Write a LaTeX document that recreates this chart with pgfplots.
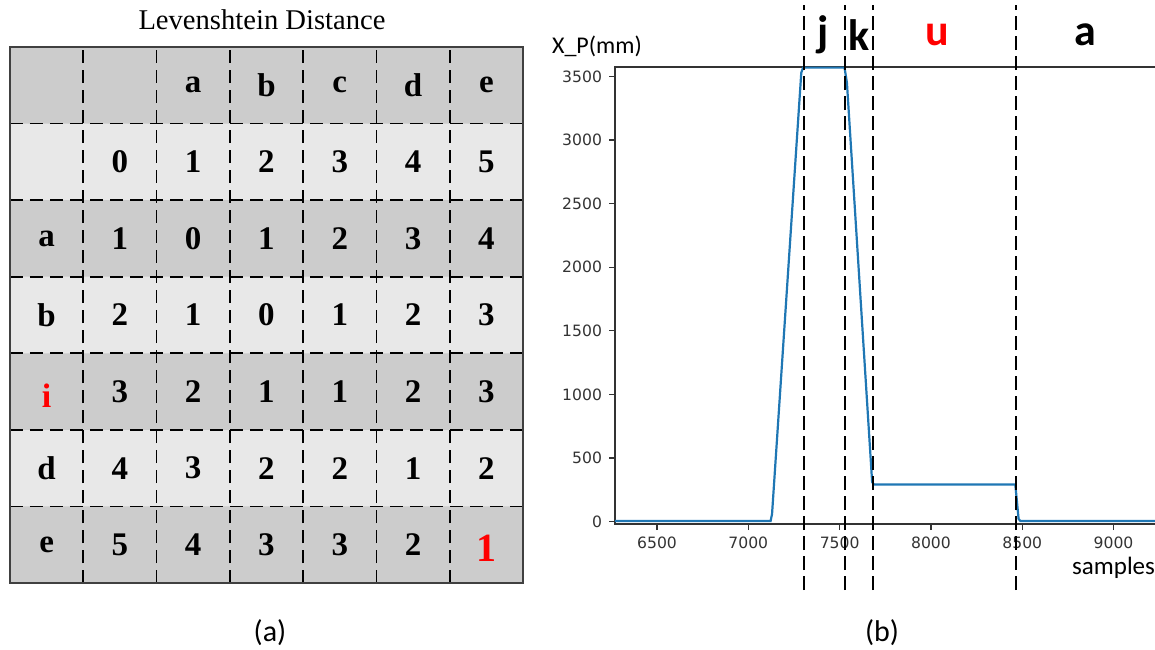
\documentclass[border=0pt]{standalone}
\usepackage{pgfplots}
\pgfplotsset{compat=1.18}
\usepackage{fontspec}
\setmainfont{Liberation Serif}
\newfontfamily\carlito{Carlito}
\newfontfamily\dejavu{DejaVu Sans}
\definecolor{cdark}{RGB}{204,204,204}
\definecolor{clight}{RGB}{232,232,232}
\definecolor{mplblue}{RGB}{31,119,180}
\begin{document}
\begin{tikzpicture}[x=1pt,y=1pt]
\path[use as bounding box] (0,0) rectangle (577.5,324.5);
\clip (0,0) rectangle (577.5,324.5);
% ---------- (a) table ----------
\begin{axis}[name=tab, at={(5pt,33pt)}, anchor=south west, scale only axis,
  width=256.5pt, height=268pt, xmin=0, xmax=7, ymin=0, ymax=7,
  xtick={1,...,6}, ytick={1,...,6}, xticklabels={,,,,,}, yticklabels={,,,,,},
  major tick length=0pt, grid=major,
  major grid style={black, line width=0.9pt, dash pattern=on 6.5pt off 3.5pt},
  axis on top, axis line style={black!75, line width=1.3pt}, clip=false]
\addplot[fill=clight, draw=none] coordinates {(0,0)(7,0)(7,7)(0,7)(0,0)};
\addplot[fill=cdark, draw=none] coordinates {(0,6)(7,6)(7,7)(0,7)(0,6)};
\addplot[fill=cdark, draw=none] coordinates {(0,4)(7,4)(7,5)(0,5)(0,4)};
\addplot[fill=cdark, draw=none] coordinates {(0,2)(7,2)(7,3)(0,3)(0,2)};
\addplot[fill=cdark, draw=none] coordinates {(0,0)(7,0)(7,1)(0,1)(0,0)};
\addplot[draw=none, mark=none, nodes near coords, point meta=explicit symbolic,
  nodes near coords align={anchor=center},
  every node near coord/.append style={font=\bfseries\fontsize{16.5}{16}\selectfont, text=black}]
  table[meta=lab] {
x y lab
2.5 6.5 a
3.5 6.5 b
4.5 6.5 c
5.5 6.5 d
6.5 6.5 e
1.5 5.5 0
2.5 5.5 1
3.5 5.5 2
4.5 5.5 3
5.5 5.5 4
6.5 5.5 5
0.5 4.5 a
1.5 4.5 1
2.5 4.5 0
3.5 4.5 1
4.5 4.5 2
5.5 4.5 3
6.5 4.5 4
0.5 3.5 b
1.5 3.5 2
2.5 3.5 1
3.5 3.5 0
4.5 3.5 1
5.5 3.5 2
6.5 3.5 3
1.5 2.5 3
2.5 2.5 2
3.5 2.5 1
4.5 2.5 1
5.5 2.5 2
6.5 2.5 3
0.5 1.5 d
1.5 1.5 4
2.5 1.5 3
3.5 1.5 2
4.5 1.5 2
5.5 1.5 1
6.5 1.5 2
0.5 0.5 e
1.5 0.5 5
2.5 0.5 4
3.5 0.5 3
4.5 0.5 3
5.5 0.5 2
};
\addplot[draw=none, mark=none, nodes near coords, point meta=explicit symbolic,
  nodes near coords align={anchor=center},
  every node near coord/.append style={font=\bfseries\fontsize{17}{16}\selectfont, text=red}]
  table[meta=lab] {
x y lab
0.5 2.45 i
};
\addplot[draw=none, mark=none, nodes near coords, point meta=explicit symbolic,
  nodes near coords align={anchor=center},
  every node near coord/.append style={font=\bfseries\fontsize{20}{20}\selectfont, text=red}]
  table[meta=lab] {
x y lab
6.5 0.45 1
};
\end{axis}
\node[font=\fontsize{14.3}{17}\selectfont] at (131,314.5) {Levenshtein Distance};
\node[font=\carlito\fontsize{15}{18}\selectfont] at (135,8) {(a)};
% ---------- (b) plot ----------
\begin{axis}[at={(307.5pt,62.5pt)}, anchor=south west, scale only axis,
  width=285.8pt, height=228.5pt, xmin=6270, xmax=9400, ymin=-20, ymax=3575,
  xtick={6500,7000,...,9000}, ytick={0,500,...,3500},
  tick align=outside, tick pos=left, major tick length=3pt,
  /pgf/number format/1000 sep={}, /pgf/number format/assume math mode=true,
  ticklabel style={font=\dejavu\fontsize{7.8}{9}\selectfont, text=black!80},
  tick style={black!80, line width=0.6pt},
  axis line style={black!80, line width=0.6pt}, clip=false]
\addplot[mplblue, line width=1.1pt] coordinates {
(6270,3) (7122,3) (7130,60) (7290,3530) (7300,3570) (7527,3570) (7540,3450)
(7678,310) (7688,290) (8462,290) (8480,20) (8490,3) (9400,3)};
\addplot[black, line width=0.8pt, dash pattern=on 7pt off 3pt] coordinates {(7305,-540)(7305,4060)};
\addplot[black, line width=0.8pt, dash pattern=on 7pt off 3pt] coordinates {(7530,-540)(7530,4060)};
\addplot[black, line width=0.8pt, dash pattern=on 7pt off 3pt] coordinates {(7683,-540)(7683,4060)};
\addplot[black, line width=0.8pt, dash pattern=on 7pt off 3pt] coordinates {(8466,-540)(8466,4060)};
\node[font=\carlito\bfseries\fontsize{22}{24}\selectfont] at (axis cs:7410,3830) {j};
\node[font=\carlito\bfseries\fontsize{22}{24}\selectfont] at (axis cs:7605,3830) {k};
\node[font=\carlito\bfseries\fontsize{22}{24}\selectfont, text=red] at (axis cs:8033,3830) {u};
\node[font=\carlito\bfseries\fontsize{22}{24}\selectfont] at (axis cs:8844,3830) {a};
\node[font=\carlito\fontsize{12}{14}\selectfont] at (axis cs:6171,3738) {X\_P(mm)};
\node[font=\carlito\fontsize{12.5}{14}\selectfont] at (axis cs:9000,-366) {samples};
\end{axis}
\node[font=\carlito\fontsize{15}{18}\selectfont] at (441,8) {(b)};
\end{tikzpicture}
\end{document}
